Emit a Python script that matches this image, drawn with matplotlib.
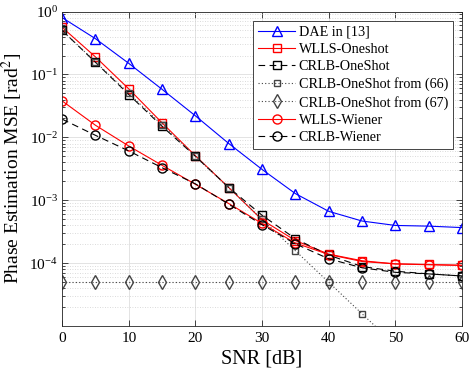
import matplotlib
matplotlib.use("Agg")
import matplotlib.pyplot as plt
import matplotlib.ticker as ticker
import numpy as np

plt.rcParams["font.family"] = ["Liberation Serif", "DejaVu Serif"]
plt.rcParams["mathtext.fontset"] = "stix"

snr = [0, 5, 10, 15, 20, 25, 30, 35, 40, 45, 50, 55, 60]

dae = [0.80, 0.37, 0.15, 0.058, 0.022, 0.0080, 0.0031, 0.00128, 0.00067,
       0.00047, 0.00040, 0.00039, 0.00037]
wlls_oneshot = [0.56, 0.19, 0.059, 0.017, 0.0051, 0.0016, 0.00049, 0.00023,
                0.00014, 0.00011, 0.000098, 0.000096, 0.000093]
crlb_oneshot = [0.50, 0.156, 0.048, 0.015, 0.0050, 0.0016, 0.00058, 0.000246,
                0.000135, 0.000089, 0.000075, 0.000068, 0.000063]
crlb_oneshot_66 = [0.5, 0.158, 0.05, 0.0158, 0.005, 0.00158, 0.0005, 0.000158,
                   0.00005, 0.0000158, 0.000005, 0.00000158, 0.0000005]
crlb_oneshot_67 = [5e-5] * 13
wlls_wiener = [0.038, 0.0156, 0.0073, 0.0036, 0.0018, 0.00089, 0.00043,
               0.00021, 0.000138, 0.000107, 0.000098, 0.000095, 0.000093]
crlb_wiener = [0.0195, 0.0108, 0.0061, 0.0033, 0.00183, 0.00087, 0.00041,
               0.000204, 0.000118, 0.000085, 0.000072, 0.000068, 0.000063]

fig, ax = plt.subplots(figsize=(4.71, 3.72), dpi=100)
fig.subplots_adjust(left=0.132, right=0.981, top=0.969, bottom=0.125)

ax.plot(snr, dae, color="#0000ff", marker="^", ms=7, mfc="none", lw=0.8,
        label="DAE in [13]")
ax.plot(snr, wlls_oneshot, color="#ff0000", marker="s", ms=5.5, mfc="none", lw=0.8,
        label="WLLS-Oneshot")
ax.plot(snr, crlb_oneshot, color="black", marker="s", ms=5.5, mfc="none", lw=0.8,
        ls=(0, (6, 4)), label="CRLB-OneShot")
ax.plot(snr, crlb_oneshot_66, color="#444444", marker="s", ms=5, mfc="none", lw=0.8,
        ls=(0, (1, 2)), label="CRLB-OneShot from (66)")
ax.plot(snr, crlb_oneshot_67, color="#444444", marker="d", ms=7, mfc="none", lw=0.8,
        ls=(0, (1, 2)), label="CRLB-OneShot from (67)")
ax.plot(snr, wlls_wiener, color="#ff0000", marker="o", ms=6.5, mfc="none", lw=0.8,
        label="WLLS-Wiener")
ax.plot(snr, crlb_wiener, color="black", marker="o", ms=6.5, mfc="none", lw=0.8,
        ls=(0, (6, 4)), label="CRLB-Wiener")

ax.set_yscale("log")
ax.set_xlim(0, 60)
ax.set_ylim(1.03e-5, 1)
ax.xaxis.set_major_locator(ticker.MultipleLocator(10))
ax.yaxis.set_major_locator(ticker.LogLocator(base=10, numticks=10))
ax.yaxis.set_minor_locator(ticker.LogLocator(base=10, subs=np.arange(2, 10), numticks=20))
ax.yaxis.set_minor_formatter(ticker.NullFormatter())

ax.grid(True, which="major", color="#dedede", lw=0.6)
ax.grid(True, which="minor", axis="y", color="#cfcfcf", lw=0.6, ls=(0, (1, 2)))
ax.set_axisbelow(True)

ax.tick_params(which="both", direction="in", top=True, right=True,
               labelsize=11, color="#262626", width=0.6)
ax.tick_params(which="major", length=4, pad=5)
ax.tick_params(axis="y", which="major", pad=3)
ax.tick_params(which="minor", length=2)
for sp in ax.spines.values():
    sp.set_color("#262626")
    sp.set_linewidth(0.6)

ax.set_xlabel("SNR [dB]", fontsize=14.5, labelpad=3)
ax.set_ylabel(r"Phase Estimation MSE [rad$^2$]", fontsize=14)
ax.yaxis.set_label_coords(-0.094, 0.5)

leg = ax.legend(loc="upper right", fontsize=10.2, frameon=True, fancybox=False,
                edgecolor="#262626", framealpha=1, handlelength=2.6,
                handletextpad=0.25, labelspacing=0.3, borderpad=0.35,
                borderaxespad=0.65)
leg.get_frame().set_linewidth(0.6)

fig.savefig("out.png", dpi=100)
